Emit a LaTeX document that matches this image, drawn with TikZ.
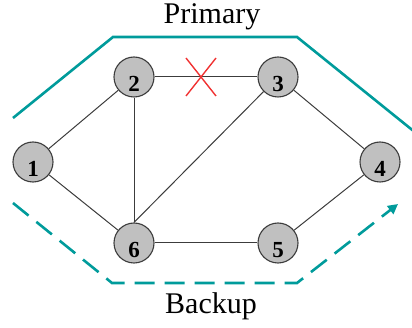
\documentclass[tikz,border=0pt]{standalone}
\usepackage{fontspec}
\setmainfont{Liberation Serif}
\usetikzlibrary{arrows.meta,calc,backgrounds}
\definecolor{pathteal}{RGB}{0,155,155}
\definecolor{nodegray}{RGB}{192,192,192}
\definecolor{edgegray}{RGB}{60,60,60}
\definecolor{xred}{RGB}{240,50,50}
\newcommand{\rnum}[1]{\raisebox{-15pt}[0pt][0pt]{#1}}
\begin{document}
\begin{tikzpicture}[x=1pt,y=-1pt,
  router/.style={circle,draw=edgegray,line width=1.1pt,fill=nodegray,minimum size=40pt,inner sep=0pt,
    font=\fontsize{23}{23}\selectfont\bfseries},
  link/.style={draw=edgegray,line width=1pt},
  route/.style={draw=pathteal,line width=2.6pt},
  lbl/.style={font=\fontsize{30}{32}\selectfont,inner sep=0pt}]
\useasboundingbox (0,0) rectangle (412,328);
\node[router] (n1) at (33,162) {\rnum{1}};
\node[router] (n2) at (134,77) {\rnum{2}};
\node[router] (n3) at (278,77) {\rnum{3}};
\node[router] (n4) at (380,162) {\rnum{4}};
\node[router] (n6) at (134,243) {\rnum{6}};
\node[router] (n5) at (278,243) {\rnum{5}};
\begin{pgfonlayer}{background}
\draw[link] (n1) -- (n2);
\draw[link] (n2) -- (n3);
\draw[link] (n3) -- (n4);
\draw[link] (n1) -- (n6);
\draw[link] (n2) -- (n6);
\draw[link] (n3) -- (n6.north);
\draw[link] (n6) -- (n5);
\draw[link] (n5) -- (n4);
\end{pgfonlayer}
\coordinate (xc) at (201,77);
\draw[xred,line width=1.4pt] ($(xc)+(-15,-19)$) -- ($(xc)+(15,19)$);
\draw[xred,line width=1.4pt] ($(xc)+(15,-19)$) -- ($(xc)+(-15,19)$);
\coordinate (p0) at (13,118);
\coordinate (p1) at (113,37);
\coordinate (p2) at (297,37);
\coordinate (p3) at (416,133);
\draw[route,line join=miter] (p0) -- (p1) -- (p2) -- (p3);
\coordinate (b0) at (13,203);
\coordinate (b1) at (112,283);
\coordinate (b2) at (297,283);
\coordinate (b3) at (398,204);
\draw[route,dash pattern=on 20pt off 10pt,-{Triangle[length=10pt,width=10pt]}] (b0) -- (b1) -- (b2) -- (b3);
\node[lbl] (prim) at (212,17) {Primary};
\node[lbl] (back) at (211,306) {Backup};
\end{tikzpicture}
\end{document}
